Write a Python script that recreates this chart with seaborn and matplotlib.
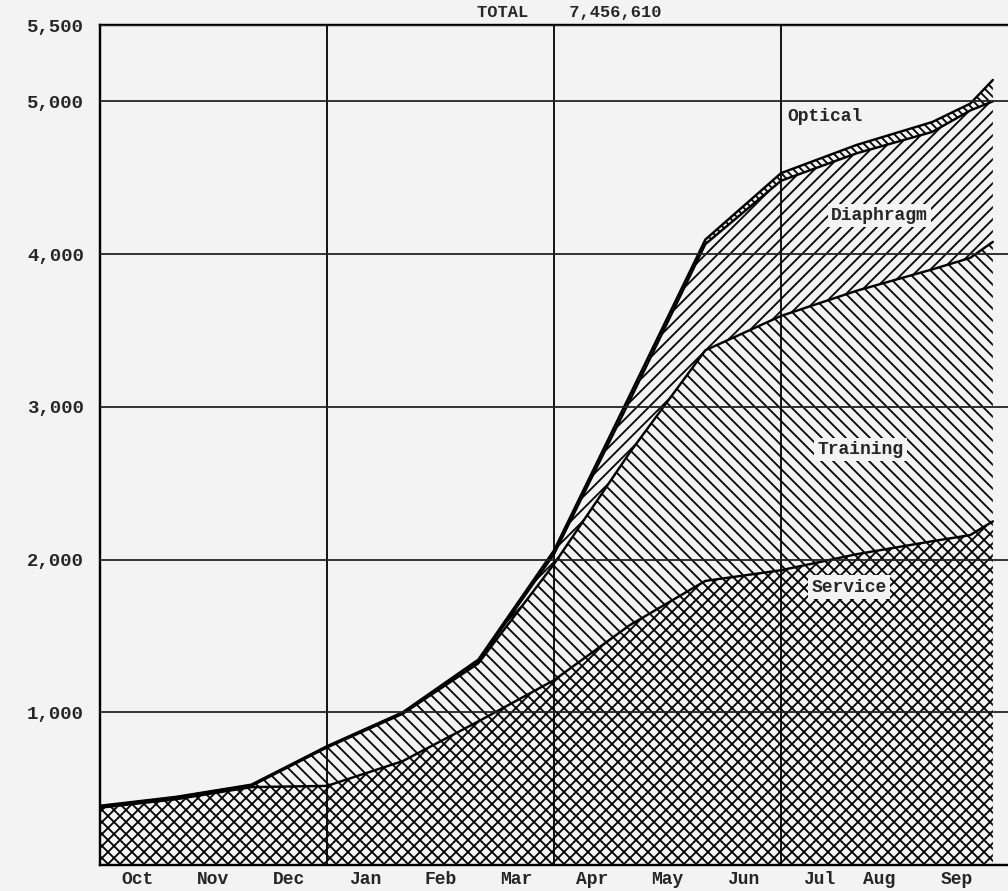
import numpy as np
import matplotlib
matplotlib.use("Agg")
import matplotlib.pyplot as plt
import seaborn as sns

# months elapsed since 1 Oct (data points at month ends, last two in Sep)
months_elapsed = [0, 1, 2, 3, 4, 5, 6, 7, 8, 9, 10, 11, 11.5, 11.8]

# values (thousands)
service = [375, 430, 510, 518, 680, 940, 1210, 1570, 1860, 1930, 2035, 2120, 2160, 2250]
training = [5, 8, 8, 252, 310, 380, 760, 1130, 1510, 1665, 1725, 1780, 1815, 1830]
diaphragm = [4, 4, 4, 4, 5, 10, 65, 340, 695, 885, 900, 900, 965, 920]
optical = [4, 4, 4, 4, 5, 15, 25, 35, 30, 50, 55, 65, 45, 140]

layer_names = ["Service", "Training", "Diaphragm", "Optical"]
month_labels = ["Oct", "Nov", "Dec", "Jan", "Feb", "Mar", "Apr", "May",
                "Jun", "Jul", "Aug", "Sep"]
month_label_pos = [0.5, 1.5, 2.5, 3.5, 4.5, 5.5, 6.5, 7.5, 8.5, 9.5, 10.3, 11.33]
y_ticks = [1000, 2000, 3000, 4000, 5000, 5500]
title_text = "TOTAL    7,456,610"

sns.set_style("white")
plt.rcParams['font.family'] = ['Liberation Mono', 'DejaVu Sans Mono']
plt.rcParams['hatch.linewidth'] = 1.8
plt.rcParams['hatch.color'] = 'black'

bg = '#f3f3f3'
fig = plt.figure(figsize=(14, 12.375), dpi=72, facecolor=bg)
ax = fig.add_axes([100 / 1008, 26 / 891, 908 / 1008, 840 / 891])
ax.set_facecolor(bg)

layers = [service, training, diaphragm, optical]
hatches = ['xx', '\\\\', '//', '\\\\\\']
polys = ax.stackplot(months_elapsed, *layers, colors=[bg] * 4,
                     edgecolor='black', linewidth=0)
for p, h in zip(polys, hatches):
    p.set_hatch(h)

# boundary lines between layers
cum = np.cumsum(np.array(layers), axis=0)
for row in cum:
    sns.lineplot(x=months_elapsed, y=row, color='black', linewidth=2.4, ax=ax)

ax.set_xlim(0, 12)
ax.set_ylim(0, 5500)

ax.set_xticks(month_label_pos)
ax.set_xticklabels(month_labels, fontsize=18, fontweight='bold')
ax.set_xticks([3, 6, 9], minor=True)
ax.set_yticks(y_ticks)
ax.set_yticklabels([f"{v:,}" for v in y_ticks], fontsize=19, fontweight='bold')
ax.tick_params(axis='both', which='both', length=0)
ax.tick_params(axis='y', pad=16)
ax.tick_params(axis='x', pad=6)

ax.grid(False)
ax.xaxis.grid(True, which='minor', color='black', linewidth=1.8)
ax.yaxis.grid(True, which='major', color='#222222', linewidth=1.8)
ax.set_axisbelow(False)

for side in ['left', 'bottom', 'top']:
    ax.spines[side].set_color('black')
    ax.spines[side].set_linewidth(2.4)
ax.spines['right'].set_visible(False)

box = dict(facecolor=bg, edgecolor='none', pad=3)
lab = dict(fontsize=18, fontweight='bold', va='center', bbox=box)
ax.text(9.08, 4900, "Optical", ha='left', **lab)
ax.text(10.3, 4250, "Diaphragm", ha='center', **lab)
ax.text(10.05, 2720, "Training", ha='center', **lab)
ax.text(9.9, 1820, "Service", ha='center', **lab)

fig.text(0.565, 1 - 17 / 891, title_text, fontsize=17, fontweight='bold',
         ha='center', va='baseline')

plt.savefig('out.png', dpi=72, facecolor=bg)
